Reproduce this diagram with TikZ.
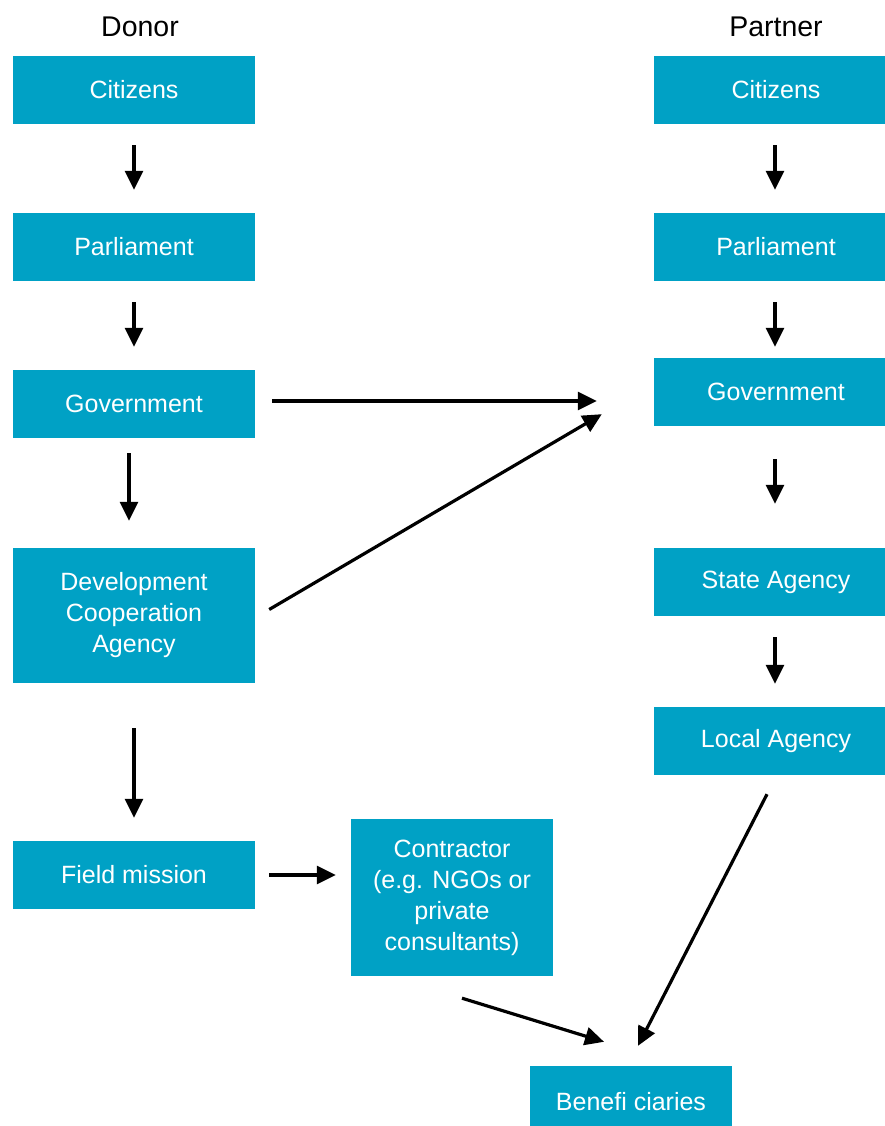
\documentclass[tikz,border=0pt]{standalone}
\usepackage{fontspec}
\setmainfont{Liberation Sans}
\usetikzlibrary{arrows.meta}
\definecolor{boxblue}{HTML}{00A1C5}
\tikzset{
  box/.style={fill=boxblue, draw=none, text=white, align=center, inner sep=0pt,
    font=\fontsize{25}{31}\selectfont},
  arr/.style={line width=3.2pt, -{Triangle[width=18pt,length=19pt]}},
  head/.style={font=\fontsize{28.5}{32}\selectfont, text=black}
}
\begin{document}
\begin{tikzpicture}[x=1pt,y=-1pt]
\useasboundingbox (0,0) rectangle (884,1126);
% headings
\node[head] (hd) at (140,27) {Donor};
\node[head] (hp) at (776,27) {Partner};
% left column
\node[box, minimum width=242pt, minimum height=68pt] (lc) at (134,90) {Citizens};
\node[box, minimum width=242pt, minimum height=68pt] (lp) at (134,247) {Parliament};
\node[box, minimum width=242pt, minimum height=68pt] (lg) at (134,404) {Government};
\node[box, minimum width=242pt, minimum height=135pt] (ld) at (134,615.5) {Development\\Cooperation\\Agency};
\node[box, minimum width=242pt, minimum height=68pt] (lf) at (134,875) {Field mission};
% right column
\node[box, minimum width=244pt, minimum height=68pt] (rc) at (776,90) {Citizens};
\node[box, minimum width=244pt, minimum height=68pt] (rp) at (776,247) {Parliament};
\node[box, minimum width=244pt, minimum height=68pt] (rg) at (776,392) {Government};
\node[box, minimum width=244pt, minimum height=68pt] (rs) at (776,582) {State Agency};
\node[box, minimum width=244pt, minimum height=68pt] (rl) at (776,741) {Local Agency};
% middle
\node[box, minimum width=202pt, minimum height=157pt] (ct) at (452,897.5) {Contractor\\(e.g. NGOs or\\private\\consultants)};
\node[box, minimum width=202pt, minimum height=72pt] (bn) at (631,1102) {Benefi ciaries};
% left arrows
\draw[arr, shorten <=21pt, shorten >=23pt] (lc.south) -- (lp.north);
\draw[arr, shorten <=21pt, shorten >=23pt] (lp.south) -- (lg.north);
\draw[arr, shorten <=15pt, shorten >=27pt] ([xshift=-5pt]lg.south) -- ([xshift=-5pt]ld.north);
\draw[arr, shorten <=45pt, shorten >=23pt] (ld.south) -- (lf.north);
% right arrows
\draw[arr, shorten <=21pt, shorten >=23pt] ([xshift=-1pt]rc.south) -- ([xshift=-1pt]rp.north);
\draw[arr, shorten <=21pt, shorten >=11pt] ([xshift=-1pt]rp.south) -- ([xshift=-1pt]rg.north);
\draw[arr, shorten <=33pt, shorten >=44pt] ([xshift=-1pt]rg.south) -- ([xshift=-1pt]rs.north);
\draw[arr, shorten <=21pt, shorten >=23pt] ([xshift=-1pt]rs.south) -- ([xshift=-1pt]rl.north);
% cross arrows
\draw[arr, shorten <=17pt, shorten >=57pt] ([yshift=3pt]lg.east) -- ([yshift=-9pt]rg.west);
\draw[arr] ([shift={(14,-6)}]ld.east) -- ([shift={(-52,-12)}]rg.south west);
\draw[arr, shorten <=14pt, shorten >=15pt] (lf.east) -- (lf.east -| ct.west);
\draw[arr] ([shift={(10,22)}]ct.south) -- ([shift={(-27,-24)}]bn.north);
\draw[arr] ([shift={(-9,19)}]rl.south) -- ([shift={(7,-20)}]bn.north);
\end{tikzpicture}
\end{document}
